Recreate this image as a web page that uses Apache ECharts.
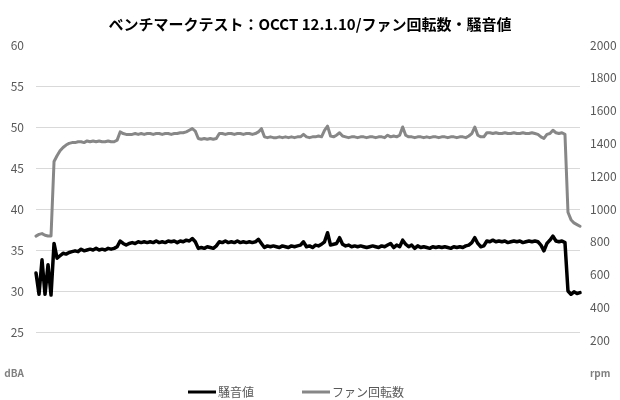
<!DOCTYPE html>
<html>
<head>
<meta charset="utf-8">
<script src="https://cdn.jsdelivr.net/npm/echarts@6/dist/echarts.min.js"></script>
<style>
html,body{margin:0;padding:0;background:#fff;}
#chart{width:620px;height:400px;}
</style>
</head>
<body>
<div id="chart"></div>
<script>
const titleText = 'ベンチマークテスト：OCCT 12.1.10/ファン回転数・騒音値';
const seriesNames = ['騒音値', 'ファン回転数'];
const leftUnit = 'dBA';
const rightUnit = 'rpm';

const noise = [
  32.2, 29.6, 33.8, 29.6, 33.2, 29.5,
  35.8, 34.0, 34.3, 34.6, 34.5, 34.7,
  34.8, 34.9, 34.8, 35.1, 34.9, 35.0,
  35.1, 35.0, 35.2, 35.0, 35.1, 35.0,
  35.2, 35.1, 35.2, 35.4, 36.1, 35.8,
  35.6, 35.8, 35.9, 35.8, 36.0, 35.9,
  36.0, 35.9, 36.0, 35.9, 36.1, 35.9,
  36.0, 35.9, 36.1, 36.0, 36.1, 35.9,
  36.1, 36.0, 36.2, 36.1, 36.4, 36.0,
  35.2, 35.3, 35.2, 35.4, 35.3, 35.2,
  35.5, 36.0, 35.9, 36.1, 35.9, 36.0,
  35.9, 36.1, 35.9, 36.0, 35.9, 36.0,
  35.9, 36.0, 36.3, 35.8, 35.3, 35.5,
  35.4, 35.5, 35.4, 35.3, 35.5, 35.4,
  35.3, 35.5, 35.4, 35.5, 35.6, 36.0,
  35.4, 35.5, 35.3, 35.6, 35.5, 35.7,
  36.0, 37.1, 35.6, 35.7, 35.8, 36.5,
  35.7, 35.5, 35.6, 35.4, 35.5, 35.4,
  35.5, 35.4, 35.3, 35.4, 35.5, 35.4,
  35.3, 35.5, 35.4, 35.6, 35.8, 35.3,
  35.6, 35.4, 36.2, 35.7, 35.4, 35.6,
  35.2, 35.5, 35.3, 35.4, 35.3, 35.2,
  35.4, 35.3, 35.4, 35.3, 35.4, 35.3,
  35.2, 35.4, 35.3, 35.4, 35.3, 35.5,
  35.6, 35.9, 36.5, 35.8, 35.4, 35.5,
  36.1, 36.0, 36.2, 36.0, 36.1, 36.0,
  36.1, 35.9, 36.0, 36.1, 36.0, 36.1,
  35.9, 36.0, 36.1, 36.0, 36.1, 36.0,
  35.6, 34.9, 35.8, 36.2, 36.7, 36.1,
  36.0, 36.1, 35.9, 30.0, 29.6, 29.9,
  29.7, 29.8
];

const fanRpm = [
  835, 845, 850, 840, 835, 835,
  1290, 1325, 1355, 1375, 1390, 1400,
  1405, 1405, 1410, 1410, 1405, 1415,
  1410, 1415, 1410, 1415, 1410, 1410,
  1415, 1410, 1410, 1420, 1470, 1460,
  1455, 1455, 1455, 1460, 1455, 1460,
  1455, 1460, 1460, 1455, 1460, 1460,
  1455, 1460, 1460, 1455, 1460, 1460,
  1465, 1465, 1470, 1480, 1490, 1475,
  1430, 1425, 1430, 1425, 1430, 1425,
  1430, 1460, 1460, 1455, 1460, 1460,
  1455, 1460, 1460, 1455, 1460, 1460,
  1455, 1460, 1470, 1490, 1440, 1435,
  1440, 1435, 1435, 1440, 1435, 1440,
  1435, 1440, 1435, 1440, 1440, 1455,
  1440, 1435, 1440, 1440, 1445, 1440,
  1480, 1505, 1445, 1440, 1450, 1465,
  1445, 1440, 1435, 1440, 1440, 1435,
  1440, 1440, 1435, 1440, 1440, 1435,
  1440, 1440, 1435, 1450, 1440, 1445,
  1440, 1450, 1500, 1450, 1440, 1440,
  1435, 1440, 1440, 1435, 1440, 1435,
  1440, 1440, 1435, 1440, 1440, 1435,
  1440, 1440, 1435, 1440, 1440, 1435,
  1445, 1460, 1500, 1450, 1440, 1440,
  1465, 1465, 1460, 1465, 1460, 1460,
  1465, 1460, 1460, 1465, 1460, 1460,
  1465, 1460, 1460, 1465, 1460, 1455,
  1440, 1430, 1455, 1460, 1480, 1465,
  1460, 1465, 1455, 980, 935, 915,
  905, 895
];

const timeSteps = noise.map((_, i) => i);

const FONT = '"Noto Sans CJK JP", "Noto Sans", sans-serif';
const chart = echarts.init(document.getElementById('chart'), null, {renderer: 'canvas'});
const unitRich = {u: {fontSize: 10, fontWeight: 'bold', color: '#808080', fontFamily: FONT}};

chart.setOption({
  animation: false,
  backgroundColor: '#ffffff',
  title: {
    text: titleText,
    left: 'center',
    top: 12,
    textStyle: {fontSize: 15, fontWeight: 'bold', color: '#000000', fontFamily: FONT}
  },
  legend: {
    data: seriesNames,
    top: 381,
    left: 183,
    icon: 'rect',
    itemWidth: 28,
    itemHeight: 3,
    itemGap: 48,
    textStyle: {fontSize: 12, color: '#595959', fontFamily: FONT, padding: [0, 0, 0, -3]}
  },
  grid: {left: 36, right: 40, top: 45, bottom: 27, containLabel: false},
  xAxis: {
    type: 'category',
    data: timeSteps,
    boundaryGap: false,
    axisLine: {show: false},
    axisTick: {show: false},
    axisLabel: {show: false},
    splitLine: {show: false}
  },
  yAxis: [
    {
      type: 'value',
      min: 20, max: 60, interval: 5,
      axisLine: {show: false},
      axisTick: {show: false},
      axisLabel: {
        color: '#595959', fontSize: 12, fontFamily: FONT, margin: 12,
        formatter: v => v === 20 ? '{u|' + leftUnit + '}' : String(v),
        rich: unitRich
      },
      splitLine: {show: true, showMinLine: false, showMaxLine: false, lineStyle: {color: '#d9d9d9', width: 1}}
    },
    {
      type: 'value',
      min: 0, max: 2000, interval: 200,
      axisLine: {show: false},
      axisTick: {show: false},
      axisLabel: {
        color: '#595959', fontSize: 12, fontFamily: FONT, margin: 10,
        formatter: v => v === 0 ? '{u|' + rightUnit + '}' : String(v),
        rich: unitRich
      },
      splitLine: {show: false}
    }
  ],
  series: [
    {
      name: seriesNames[0],
      type: 'line',
      yAxisIndex: 0,
      data: noise,
      showSymbol: false,
      symbol: 'none',
      color: '#000000',
      lineStyle: {color: '#000000', width: 3.5, cap: 'round', join: 'round'}
    },
    {
      name: seriesNames[1],
      type: 'line',
      yAxisIndex: 1,
      data: fanRpm,
      showSymbol: false,
      symbol: 'none',
      color: '#878787',
      lineStyle: {color: '#878787', width: 3, cap: 'round', join: 'round'}
    }
  ]
});
</script>
</body>
</html>
